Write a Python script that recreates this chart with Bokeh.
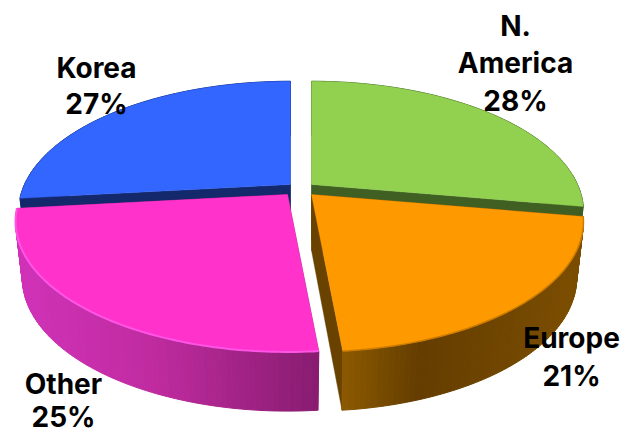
from math import sin, cos, radians
from bokeh.plotting import figure
from bokeh.models import Range1d, ColumnDataSource
from bokeh.core.properties import value
from bokeh.embed import file_html
from bokeh.resources import INLINE

# Data
regions = ["N. America", "Europe", "Other", "Korea"]
shares = [28, 21, 25, 27]

# Style / layout
tops = ["#92d050", "#ff9900", "#ff33cc", "#3366ff"]
side_stops = [
    [(311, "#3f5f23"), (585, "#3f5f23")],
    [(340, "#8c5a00"), (420, "#643d00"), (585, "#7c4e00")],
    [(15, "#d032b8"), (150, "#c02ba0"), (317, "#881c70")],
    [(15, "#14296b"), (290, "#14296b")],
]
cut_colors = ["#3f5f23", "#6a4200", "#881c70", "#14296b"]
apexes = [(311, 184), (311, 194), (287, 194), (290, 184)]
paint_order = [3, 0, 1, 2]
A, B, K = 266.0, 124.7, 0.208
DEPTH, BOT_X, BOT_Y = 56, 0.975, 1.02


def project(t):
    r = radians(t)
    x, y = sin(r), cos(r)
    d = 1 + K * y
    return A * x / d, -B * y / d


def hex_rgb(c):
    return tuple(int(c[i:i + 2], 16) for i in (1, 3, 5))


def shade(stops, x):
    if x <= stops[0][0]:
        return stops[0][1]
    for (x0, c0), (x1, c1) in zip(stops, stops[1:]):
        if x <= x1:
            f = (x - x0) / (x1 - x0)
            a, b = hex_rgb(c0), hex_rgb(c1)
            return "#%02x%02x%02x" % tuple(round(p + (q - p) * f) for p, q in zip(a, b))
    return stops[-1][1]


p = figure(width=625, height=434, output_backend="svg", toolbar_location=None,
           x_range=Range1d(0, 625), y_range=Range1d(434, 0), min_border=0,
           outline_line_color=None)
p.axis.visible = False
p.grid.visible = False

total = sum(shares)
bounds = []
start = 0.0
for share in shares:
    end = start + share / total * 360
    bounds.append((start, end))
    start = end

xs, ys, fills, widths = [], [], [], []
rims = {}
for i in paint_order:
    start, end = bounds[i]
    ax, ay = apexes[i]
    n = max(2, int((end - start) / 1.0))
    ts = [start + (end - start) * j / n for j in range(n + 1)]
    top_pts = [(ax + project(t)[0], ay + project(t)[1]) for t in ts]
    bot_pts = [(ax + project(t)[0] * BOT_X, ay + DEPTH + project(t)[1] * BOT_Y) for t in ts]
    for a, b in ((top_pts[0], bot_pts[0]), (top_pts[-1], bot_pts[-1])):
        xs.append([ax, a[0], b[0], ax])
        ys.append([ay, a[1], b[1], ay + DEPTH])
        fills.append(cut_colors[i])
        widths.append(0.4)
    for j in range(n):
        xs.append([top_pts[j][0], top_pts[j + 1][0], bot_pts[j + 1][0], bot_pts[j][0]])
        ys.append([top_pts[j][1], top_pts[j + 1][1], bot_pts[j + 1][1], bot_pts[j][1]])
        fills.append(shade(side_stops[i], (top_pts[j][0] + top_pts[j + 1][0]) / 2))
        widths.append(1.0)
    xs.append([ax] + [q[0] for q in top_pts])
    ys.append([ay] + [q[1] for q in top_pts])
    fills.append(tops[i])
    widths.append(0.4)
    rims[i] = top_pts

p.patches("xs", "ys", source=ColumnDataSource(dict(xs=xs, ys=ys, fill=fills, w=widths)),
          fill_color="fill", line_color="fill", line_width="w")

# soft rim highlights on the front slices
p.line([q[0] for q in rims[2]], [q[1] for q in rims[2]], line_color="#ff55e6", line_width=2)
p.line([q[0] for q in rims[1]], [q[1] for q in rims[1]], line_color="#cc7c00", line_width=1.5)

# Labels
label_rows = [
    ("N.", 515, 25), ("America", 515, 62), (f"{shares[0]}%", 515, 100),
    ("Europe", 571, 337), (f"{shares[1]}%", 571, 375),
    ("Other", 63, 383), (f"{shares[2]}%", 63, 416),
    ("Korea", 96, 67), (f"{shares[3]}%", 96, 103),
]
p.text([r[1] for r in label_rows], [r[2] for r in label_rows], text=[r[0] for r in label_rows],
        text_font=value("Inter"), text_font_style="bold", text_font_size="28px",
        text_color="#000000", text_align="center", text_baseline="middle")

open("out.html", "w").write(file_html(p, INLINE))
